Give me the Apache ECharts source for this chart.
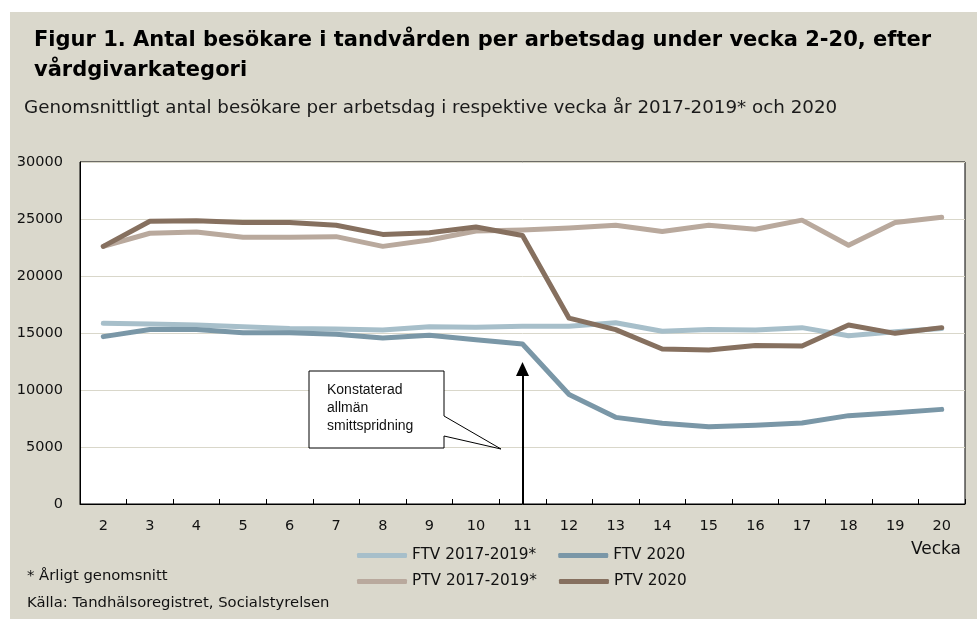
<!DOCTYPE html>
<html>
<head>
<meta charset="utf-8">
<script src="https://cdn.jsdelivr.net/npm/echarts@6/dist/echarts.min.js"></script>
<style>
html,body{margin:0;padding:0;background:#fff;}
#c{width:977px;height:619px;}
</style>
</head>
<body>
<div id="c"></div>
<script>
var weeks = ['2','3','4','5','6','7','8','9','10','11','12','13','14','15','16','17','18','19','20'];
var ftv1719 = [15850,15800,15700,15550,15400,15350,15260,15550,15500,15600,15600,15900,15150,15300,15260,15470,14760,15100,15400];
var ftv2020 = [14680,15300,15300,15030,15030,14900,14560,14800,14400,14030,9600,7600,7080,6780,6900,7100,7750,8000,8300];
var ptv1719 = [22600,23750,23860,23400,23400,23450,22600,23160,23950,24040,24200,24450,23900,24450,24100,24900,22700,24700,25150];
var ptv2020 = [22600,24800,24850,24700,24700,24450,23650,23800,24300,23550,16300,15300,13600,13500,13900,13860,15700,14970,15470];
var yTicks = {min:0, max:30000, interval:5000};

var names = ['FTV 2017-2019*','FTV 2020','PTV 2017-2019*','PTV 2020'];
var colors = ['#a7bfca','#7a97a7','#b9a99d','#86705f'];
var values = [ftv1719, ftv2020, ptv1719, ptv2020];

var FONT = 'DejaVu Sans';
var chart = echarts.init(document.getElementById('c'));

var series = names.map(function(n,i){
  return {
    name:n, type:'line', data:values[i], symbol:'none', smooth:false,
    lineStyle:{width:5, color:colors[i], cap:'round', join:'round'},
    itemStyle:{color:colors[i]}, z:2+i
  };
});
series[1].markLine = {
  silent:true, symbol:['none','triangle'], symbolSize:[13,14],
  label:{show:false},
  lineStyle:{color:'#000', width:2, type:'solid'},
  data:[[{coord:['11',0]},{coord:['11',11850]}]]
};

chart.setOption({
  backgroundColor:'#fff',
  animation:false,
  title:[
    {text:'Figur 1. Antal besökare i tandvården per arbetsdag under vecka 2-20, efter\nvårdgivarkategori',
     left:34, top:26, padding:0,
     textStyle:{fontFamily:FONT, fontWeight:'bold', fontSize:21, color:'#000', lineHeight:30}},
    {text:'Genomsnittligt antal besökare per arbetsdag i respektive vecka år 2017-2019* och 2020',
     left:24, top:99, padding:0,
     textStyle:{fontFamily:FONT, fontWeight:'normal', fontSize:18.3, color:'#1a1a1a'}}
  ],
  legend:[
    {data:names.slice(0,2), left:357, top:548, padding:0, itemWidth:50, itemHeight:5, itemGap:22,
     icon:'roundRect', selectedMode:false,
     textStyle:{fontFamily:FONT, fontSize:15.3, color:'#111'}},
    {data:names.slice(2,4), left:357, top:574, padding:0, itemWidth:50, itemHeight:5, itemGap:22,
     icon:'roundRect', selectedMode:false,
     textStyle:{fontFamily:FONT, fontSize:15.3, color:'#111'}}
  ],
  grid:{left:80, right:12, top:162, bottom:115, show:true, backgroundColor:'#fff',
        borderColor:'#000', borderWidth:1, containLabel:false},
  xAxis:{type:'category', data:weeks, boundaryGap:true,
    axisLine:{lineStyle:{color:'#000', width:1}},
    axisTick:{show:true, inside:true, length:5, lineStyle:{color:'#000', width:1}},
    axisLabel:{margin:15, fontFamily:FONT, fontSize:14.5, color:'#111'},
    splitLine:{show:false}},
  yAxis:{type:'value', min:yTicks.min, max:yTicks.max, interval:yTicks.interval,
    axisLine:{show:true, lineStyle:{color:'#000', width:1}},
    axisTick:{show:false},
    axisLabel:{margin:17, fontFamily:FONT, fontSize:14.5, color:'#111',
      formatter:function(v){return String(v);}},
    splitLine:{lineStyle:{color:'#d9d7ca', width:1}}},
  graphic:[
    {type:'rect', z:-100, silent:true, shape:{x:10, y:12, width:967, height:607}, style:{fill:'#dad8cc'}},
    {type:'polygon', z:100, silent:true,
     shape:{points:[[309,371],[444,371],[444,416],[501,449],[444,436],[444,448],[309,448]]},
     style:{fill:'#fff', stroke:'#000', lineWidth:1}},
    {type:'text', z:101, silent:true, left:327, top:381,
     style:{text:'Konstaterad\nallmän\nsmittspridning', font:'14px "Liberation Sans"', fill:'#111', lineHeight:18}},
    {type:'text', z:101, silent:true, right:16, top:541,
     style:{text:'Vecka', font:'17px "DejaVu Sans"', fill:'#111', textAlign:'right'}},
    {type:'text', z:101, silent:true, left:27, top:569,
     style:{text:'* Årligt genomsnitt', font:'14.8px "DejaVu Sans"', fill:'#111'}},
    {type:'text', z:101, silent:true, left:27, top:596,
     style:{text:'Källa: Tandhälsoregistret, Socialstyrelsen', font:'14.8px "DejaVu Sans"', fill:'#111'}}
  ],
  series:series
});
</script>
</body>
</html>
